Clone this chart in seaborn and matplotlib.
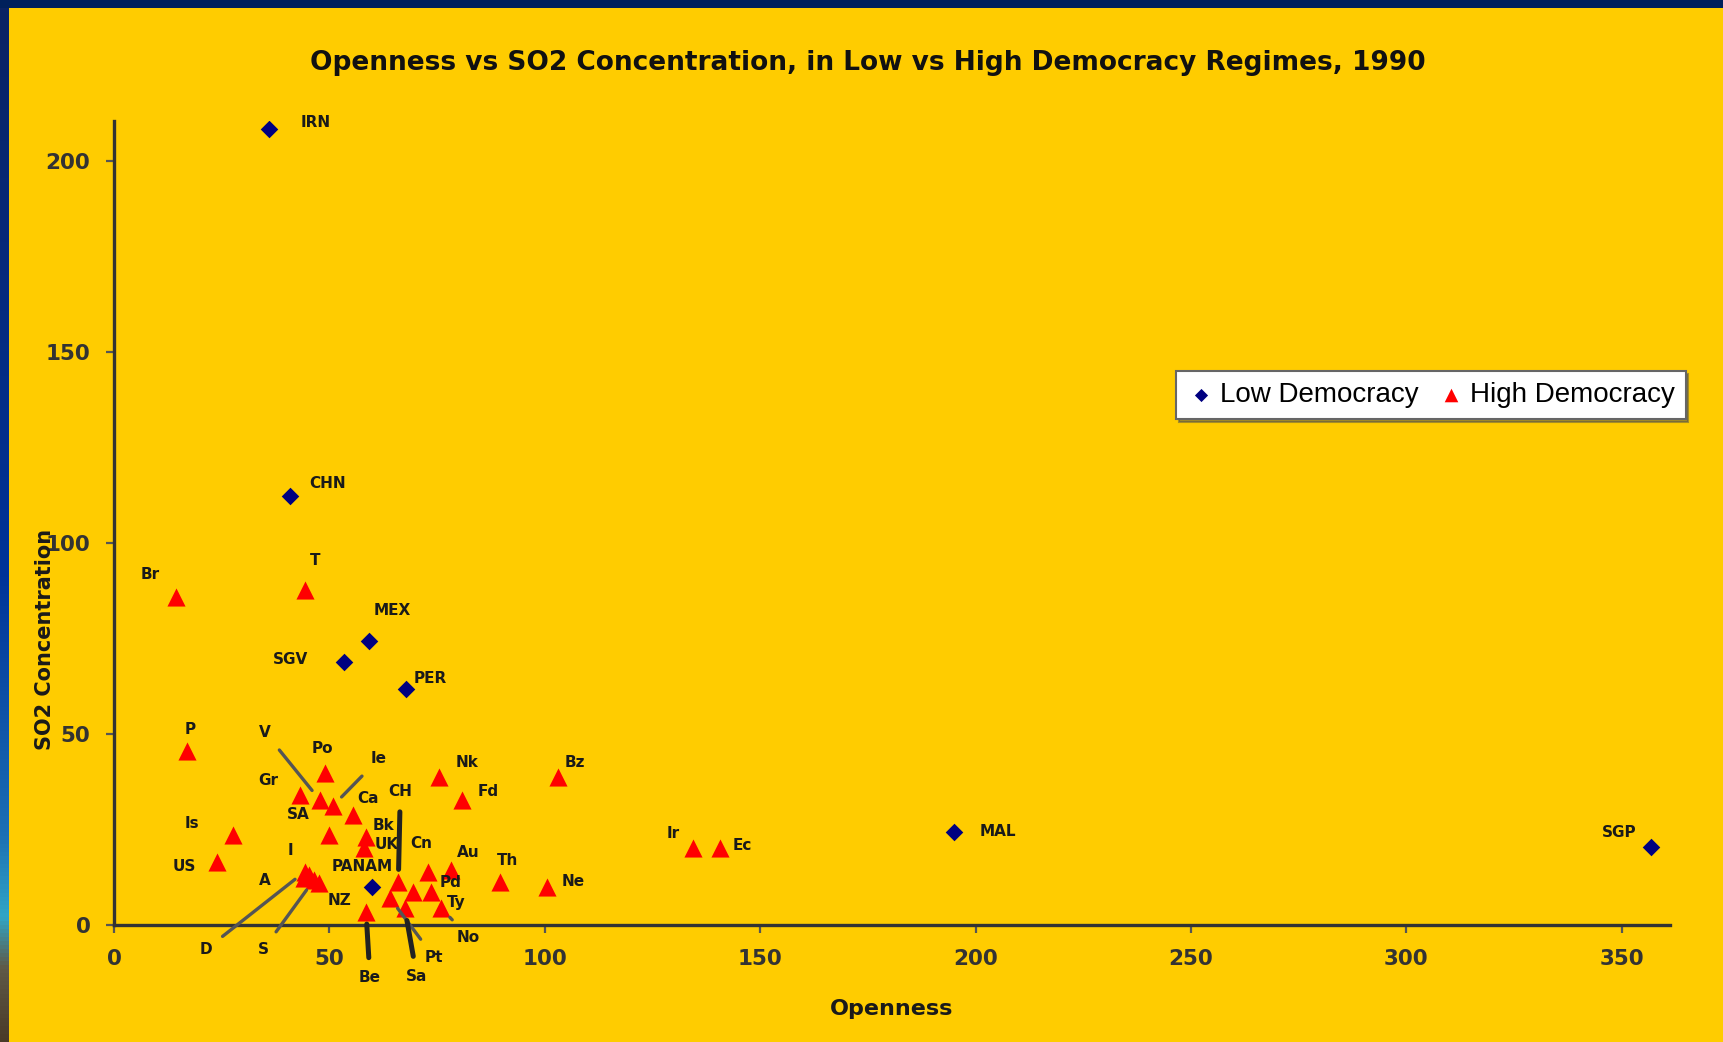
import numpy as np
import pandas as pd
import matplotlib
matplotlib.use("Agg")
import matplotlib.pyplot as plt
from matplotlib.patches import Rectangle
from matplotlib.colors import LinearSegmentedColormap
import seaborn as sns

# low democracy regimes (blue diamonds)
low_names = ["IRN", "CHN", "MEX", "SGV", "PER", "PANAM", "MAL", "SGP"]
low_open = [36.0, 40.9, 59.2, 53.4, 67.7, 60.0, 194.9, 356.9]
low_so2 = [208.6, 112.5, 74.4, 69.0, 61.8, 10.0, 24.4, 20.4]

# high democracy regimes (red triangles)
high_names = ["Br", "T", "P", "Is", "US", "Po", "Gr", "V", "Ie", "Ca", "SA",
              "Bk", "UK", "D", "S", "I", "A", "NZ", "Be", "CH", "Pt", "Sa",
              "Ty", "Cn", "Pd", "No", "Au", "Nk", "Fd", "Th", "Ne", "Bz",
              "Ir", "Ec"]
high_open = [14.3, 44.4, 16.9, 27.6, 23.8, 49.0, 43.2, 47.8, 50.8, 55.5, 49.8,
             58.5, 58.0, 44.3, 46.4, 45.3, 44.0, 47.5, 58.5, 66.0, 64.1, 67.5,
             69.5, 73.0, 73.7, 76.0, 78.2, 75.5, 80.7, 89.6, 100.6, 103.1,
             134.3, 140.6]
high_so2 = [86.0, 87.7, 45.7, 23.6, 16.6, 39.7, 34.0, 32.7, 31.2, 28.8, 23.6,
            23.1, 20.1, 14.0, 11.8, 13.0, 12.2, 11.0, 3.5, 11.3, 7.0, 4.4,
            8.7, 14.0, 8.7, 4.4, 14.4, 38.8, 32.7, 11.2, 10.0, 38.8,
            20.1, 20.1]

x_ticks = [0, 50, 100, 150, 200, 250, 300, 350]
y_ticks = [0, 50, 100, 150, 200]

# label placement (pixels from the point) and leader lines
low_offsets = [(47, 6), (37, 12), (23, 30), (-54, 2), (25, 11), (-10, 20),
               (44, 0), (-32, 15)]
high_offsets = [(-25, 22), (10, 30), (3, 21), (-41, 11), (-32, -5), (-3, 25),
                (-32, 15), (-55, 68), (46, 47), (15, 17), (-30, 20), (17, 11),
                (23, 4), (-99, -78), (-51, -70), (-19, 25), (-39, -2),
                (21, -17), (4, -66), (2, 90), (44, -59), (12, -68), (43, -11),
                (-7, 28), (19, 9), (27, -29), (17, 18), (28, 14), (27, 9),
                (8, 22), (26, 5), (17, 14), (-19, 15), (23, 3)]
leaders = {"V": "gray", "Ie": "gray", "D": "gray", "S": "gray", "Pt": "gray",
           "No": "gray", "CH": "black", "Be": "black", "Sa": "black"}

low = pd.DataFrame({"country": low_names, "Openness": low_open, "SO2": low_so2})
high = pd.DataFrame({"country": high_names, "Openness": high_open, "SO2": high_so2})

W, H = 1723, 1042
fig = plt.figure(figsize=(W / 100, H / 100), dpi=100)
fig.patch.set_facecolor("#00205b")

# yellow slide background
fig.add_artist(Rectangle((9 / W, 0), 1, 1 - 8 / H, transform=fig.transFigure,
                         facecolor="#ffcc00", edgecolor="none", zorder=0))
# left edge gradient strip
strip = fig.add_axes([0, 0, 9 / W, 1 - 8 / H])
cmap = LinearSegmentedColormap.from_list(
    "edge", [(0, "#0a2263"), (0.55, "#003399"), (0.8, "#1c6fb4"),
             (0.88, "#31a6c6"), (0.93, "#5f5a48"), (1, "#4a3a28")])
strip.imshow(np.linspace(0, 1, 256)[:, None], aspect="auto", cmap=cmap)
strip.axis("off")

ax = fig.add_axes([114 / W, 117 / H, (1670 - 114) / W, (925 - 121) / H])
ax.set_facecolor("none")

sns.scatterplot(data=low, x="Openness", y="SO2", marker="D", s=80,
                color="#000080", linewidth=0, label="Low Democracy", ax=ax,
                zorder=3)
sns.scatterplot(data=high, x="Openness", y="SO2", marker="^", s=170,
                color="#ff0000", linewidth=0, label="High Democracy", ax=ax,
                zorder=3)

label_font = dict(fontsize=11, fontweight="bold", color="#1a1a1a")


def put_labels(df, offsets):
    for (name, x, y), (dx, dy) in zip(df[["country", "Openness", "SO2"]].values, offsets):
        kind = leaders.get(name)
        arrow = None
        if kind == "gray":
            arrow = dict(arrowstyle="-", color="#555555", lw=2.4,
                         shrinkA=7, shrinkB=9)
        elif kind == "black":
            arrow = dict(arrowstyle="-", color="#222222", lw=3.6,
                         shrinkA=7, shrinkB=9)
        ax.annotate(name, (x, y), xytext=(dx, dy), textcoords="offset pixels",
                    ha="center", va="center", arrowprops=arrow, zorder=4,
                    **label_font)


put_labels(low, low_offsets)
put_labels(high, high_offsets)

ax.set_xlim(0, 361.2)
ax.set_ylim(0, 210.6)
ax.set_xticks(x_ticks)
ax.set_yticks(y_ticks)
for side in ["top", "right"]:
    ax.spines[side].set_visible(False)
for side in ["left", "bottom"]:
    ax.spines[side].set_color("#333333")
    ax.spines[side].set_linewidth(2.4)
ax.tick_params(direction="out", length=6, width=1.6, color="#555555",
               labelsize=15.5, labelcolor="#333333", pad=11)
for t in ax.get_xticklabels() + ax.get_yticklabels():
    t.set_fontweight("bold")

ax.set_xlabel("Openness", fontsize=16, fontweight="bold", color="#1a1a1a",
              labelpad=22)
ax.set_ylabel("SO2 Concentration", fontsize=15, fontweight="bold",
              color="#1a1a1a")
ax.yaxis.set_label_coords(-0.038, 0.355)

fig.text(868 / W, 1 - 63 / H,
         "Openness vs SO2 Concentration, in Low vs High Democracy Regimes, 1990",
         ha="center", va="center", fontsize=19, fontweight="bold",
         color="#111111")

leg = ax.legend(loc="center", bbox_to_anchor=(1431 / W, 1 - 395 / H),
                bbox_transform=fig.transFigure, ncol=2, frameon=True,
                fancybox=False, shadow=True, handletextpad=0.15,
                columnspacing=0.7, handlelength=1.0, borderpad=0.4,
                prop={"family": "Liberation Sans", "size": 20},
                markerscale=0.75)
leg.get_frame().set_edgecolor("#666666")
leg.get_frame().set_linewidth(1.5)
leg.get_frame().set_facecolor("white")
leg.get_frame().set_alpha(1)

fig.savefig("out.png", dpi=100, facecolor=fig.get_facecolor())
